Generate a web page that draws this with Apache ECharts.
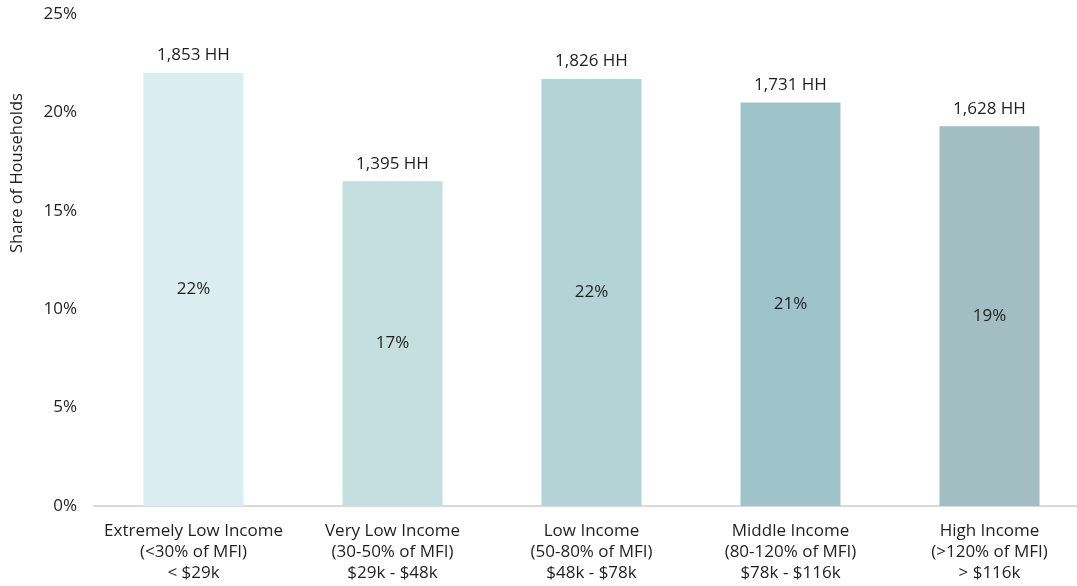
<!DOCTYPE html>
<html>
<head>
<meta charset="utf-8">
<script src="https://cdn.jsdelivr.net/npm/echarts@6/dist/echarts.min.js"></script>
<style>html,body{margin:0;padding:0;background:#fff;overflow:hidden;}#c{width:1089px;height:586px;}</style>
</head>
<body>
<div id="c"></div>
<script>
const categories = [
  "Extremely Low Income\n(<30% of MFI)\n< $29k",
  "Very Low Income\n(30-50% of MFI)\n$29k - $48k",
  "Low Income\n(50-80% of MFI)\n$48k - $78k",
  "Middle Income\n(80-120% of MFI)\n$78k - $116k",
  "High Income\n(>120% of MFI)\n> $116k"
];
const shares = [22.0, 16.5, 21.7, 20.5, 19.3];
const shareLabels = ["22%", "17%", "22%", "21%", "19%"];
const households = ["1,853 HH", "1,395 HH", "1,826 HH", "1,731 HH", "1,628 HH"];
const barColors = ["#DAEDF0", "#C5DFE0", "#B4D3D7", "#9EC4CA", "#A3BEC3"];

const FONT = "'Open Sans'";
const TXT = '#1F1F1F';
const chart = echarts.init(document.getElementById('c'));
chart.setOption({
  backgroundColor: '#ffffff',
  animation: false,
  grid: { left: 94, right: 0, top: 14, bottom: 80, containLabel: false },
  xAxis: {
    type: 'category',
    data: categories,
    axisLine: { lineStyle: { color: '#D9D9D9', width: 2 } },
    axisTick: { show: false },
    axisLabel: { color: TXT, fontFamily: FONT, fontSize: 17, lineHeight: 21, margin: 15, interval: 0 }
  },
  yAxis: {
    type: 'value',
    min: 0, max: 25, interval: 5,
    axisLine: { show: false },
    axisTick: { show: false },
    splitLine: { show: false },
    axisLabel: { formatter: '{value}%', color: TXT, fontFamily: FONT, fontSize: 17, margin: 17 }
  },
  graphic: [{
    type: 'text',
    x: 17, y: 173,
    rotation: Math.PI / 2,
    style: { text: 'Share of Households', fill: TXT, font: '16.5px ' + FONT, textAlign: 'center', textVerticalAlign: 'middle' }
  }],
  series: [
    {
      type: 'bar',
      barWidth: 100,
      data: shares.map((v, i) => ({ value: v, itemStyle: { color: barColors[i] } })),
      label: {
        show: true, position: 'inside',
        formatter: p => shareLabels[p.dataIndex],
        color: TXT, fontFamily: FONT, fontSize: 17
      }
    },
    {
      type: 'bar',
      barWidth: 100,
      barGap: '-100%',
      silent: true,
      data: shares,
      itemStyle: { color: 'rgba(0,0,0,0)' },
      label: {
        show: true, position: 'top', distance: 9,
        formatter: p => households[p.dataIndex],
        color: TXT, fontFamily: FONT, fontSize: 17
      }
    }
  ]
});
</script>
</body>
</html>
